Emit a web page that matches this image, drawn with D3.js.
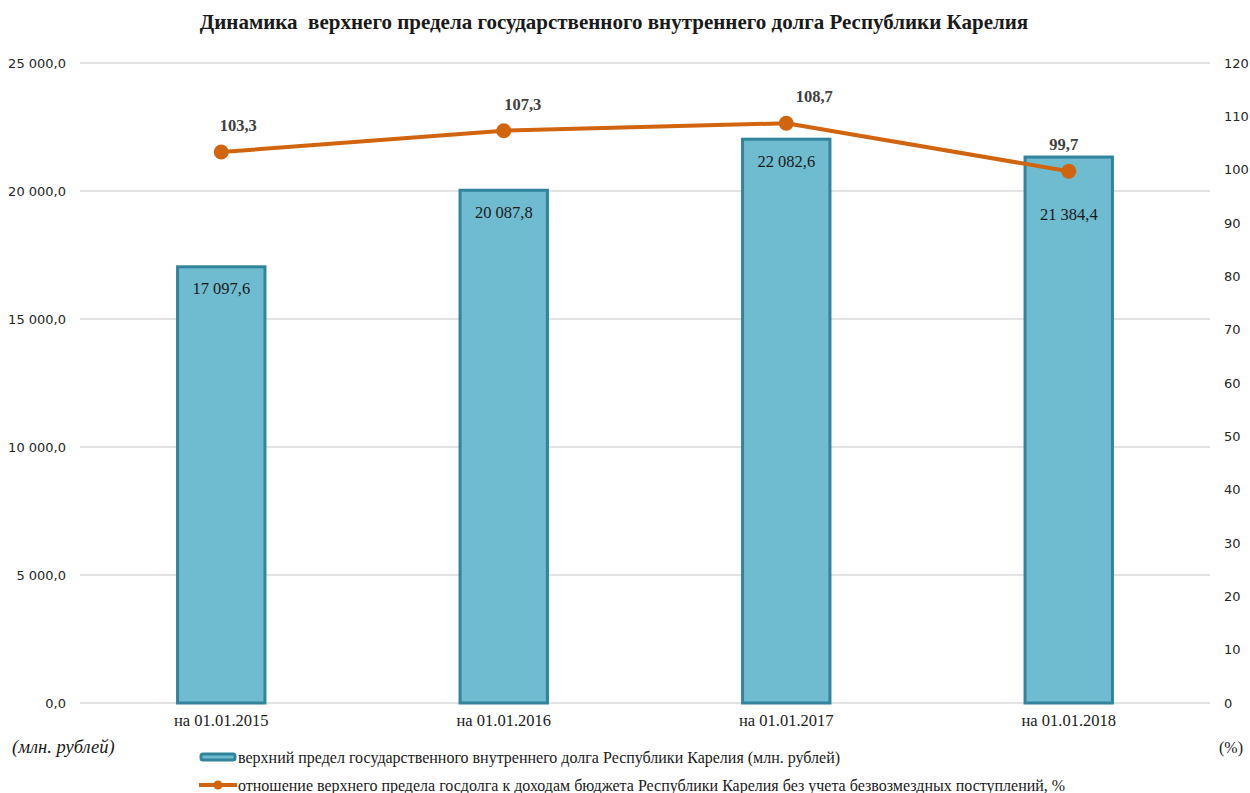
<!DOCTYPE html>
<html>
<head>
<meta charset="utf-8">
<script src="https://cdn.jsdelivr.net/npm/d3@7"></script>
<style>
    body { margin: 0; background: #fff; }
    .tick text { font-family: "DejaVu Sans", sans-serif; font-size: 13px; fill: #262626; }
    .serif { font-family: "Liberation Serif", "Times New Roman", serif; fill: #1a1a1a; white-space: pre; }
</style>
</head>
<body>
<div id="chart"></div>
<script>
// data
var categories = ["на 01.01.2015", "на 01.01.2016", "на 01.01.2017", "на 01.01.2018"];
var debtValues = [17097.6, 20087.8, 22082.6, 21384.4];
var ratioValues = [103.3, 107.3, 108.7, 99.7];
var leftTicks = [0, 5000, 10000, 15000, 20000, 25000];
var rightTicks = [0, 10, 20, 30, 40, 50, 60, 70, 80, 90, 100, 110, 120];
var barName = "верхний предел государственного внутреннего долга Республики Карелия (млн. рублей)";
var lineName = "отношение верхнего предела госдолга к доходам бюджета Республики Карелия без учета безвозмездных поступлений, %";

// label nudges (excel moved some labels away from the line)
var lineLabelDx = [17, 19, 28, -5];
var barLabelDy = [29, 29, 29, 64];

var W = 1250, H = 793;
var margin = {top: 63, right: 40, bottom: 90, left: 80},
    width = W - margin.left - margin.right,
    height = H - margin.top - margin.bottom;

var fmt = function (v, dec) {
    var s = v.toFixed(dec).split(".");
    var intPart = s[0].replace(/\B(?=(\d{3})+(?!\d))/g, " ");
    return dec > 0 ? intPart + "," + s[1] : intPart;
};

var svg = d3.select("#chart").append("svg")
    .attr("width", W).attr("height", H);

// title
svg.append("text")
    .attr("class", "serif")
    .attr("x", 614).attr("y", 29)
    .attr("text-anchor", "middle")
    .style("font-size", "21px").style("font-weight", "bold")
    .text("Динамика  верхнего предела государственного внутреннего долга Республики Карелия");

var g = svg.append("g").attr("transform", "translate(" + margin.left + "," + margin.top + ")");

var x = d3.scaleBand().domain(categories).range([0, width]).paddingInner(0.68).paddingOuter(0.34);
var xc = d3.scalePoint().domain(categories).range([0, width]).padding(0.5);
var y0 = d3.scaleLinear().domain([0, 25000]).range([height, 0]);
var y1 = d3.scaleLinear().domain([0, 120]).range([height, 0]);

// gridlines
g.selectAll(".grid").data(leftTicks).enter().append("line")
    .attr("x1", 0).attr("x2", width)
    .attr("y1", function (d) { return y0(d); })
    .attr("y2", function (d) { return y0(d); })
    .attr("stroke", "#d9d9d9").attr("stroke-width", 1.3);

// left axis
var axL = g.append("g")
    .call(d3.axisLeft(y0).tickValues(leftTicks).tickSize(0).tickPadding(14)
        .tickFormat(function (d) { return fmt(d, 1); }));
axL.select(".domain").remove();

// right axis
var axR = g.append("g")
    .attr("transform", "translate(" + width + ",0)")
    .call(d3.axisRight(y1).tickValues(rightTicks).tickSize(0).tickPadding(14));
axR.select(".domain").remove();

// bars
var bar = g.selectAll(".bar").data(debtValues).enter().append("g");
bar.append("rect")
    .attr("x", function (d, i) { return x(categories[i]) + 1.5; })
    .attr("y", function (d) { return y0(d) + 1.5; })
    .attr("width", x.bandwidth() - 3)
    .attr("height", function (d) { return height - y0(d) - 1.5; })
    .attr("fill", "#6fbbd0")
    .attr("stroke", "#31849b")
    .attr("stroke-width", 3);

bar.append("text")
    .attr("class", "serif")
    .attr("x", function (d, i) { return xc(categories[i]); })
    .attr("y", function (d, i) { return y0(d) + barLabelDy[i]; })
    .attr("text-anchor", "middle")
    .style("font-size", "16.5px")
    .text(function (d) { return fmt(d, 1); });

// category labels
g.selectAll(".cat").data(categories).enter().append("text")
    .attr("class", "serif")
    .attr("x", function (d) { return xc(d); })
    .attr("y", height + 23)
    .attr("text-anchor", "middle")
    .style("font-size", "16.5px")
    .text(function (d) { return d; });

// line
var line = d3.line()
    .x(function (d, i) { return xc(categories[i]); })
    .y(function (d) { return y1(d); });

g.append("path")
    .datum(ratioValues)
    .attr("d", line)
    .attr("fill", "none")
    .attr("stroke", "#d0640f")
    .attr("stroke-width", 4)
    .attr("stroke-linejoin", "round");

g.selectAll(".pt").data(ratioValues).enter().append("circle")
    .attr("cx", function (d, i) { return xc(categories[i]); })
    .attr("cy", function (d) { return y1(d); })
    .attr("r", 7.5)
    .attr("fill", "#d0640f");

g.selectAll(".lbl").data(ratioValues).enter().append("text")
    .attr("class", "serif")
    .attr("x", function (d, i) { return xc(categories[i]) + lineLabelDx[i]; })
    .attr("y", function (d) { return y1(d) - 21; })
    .attr("text-anchor", "middle")
    .style("font-size", "16.5px").style("font-weight", "bold")
    .style("fill", "#404040")
    .text(function (d) { return fmt(d, 1); });

// axis unit labels
svg.append("text")
    .attr("class", "serif")
    .attr("x", 12).attr("y", 753)
    .style("font-size", "18.5px").style("font-style", "italic")
    .text("(млн. рублей)");

svg.append("text")
    .attr("class", "serif")
    .attr("x", 1219).attr("y", 753)
    .style("font-size", "16px")
    .text("(%)");

// legend
var leg = svg.append("g");
leg.append("rect")
    .attr("x", 201).attr("y", 754).attr("width", 34).attr("height", 6)
    .attr("rx", 2)
    .attr("fill", "#6fbbd0").attr("stroke", "#31849b").attr("stroke-width", 3);
leg.append("text")
    .attr("class", "serif")
    .attr("x", 238).attr("y", 763)
    .style("font-size", "16px")
    .text(barName);

leg.append("line")
    .attr("x1", 199).attr("x2", 237).attr("y1", 785).attr("y2", 785)
    .attr("stroke", "#d0640f").attr("stroke-width", 4);
leg.append("circle")
    .attr("cx", 218).attr("cy", 785).attr("r", 4.5)
    .attr("fill", "#d0640f");
leg.append("text")
    .attr("class", "serif")
    .attr("x", 238).attr("y", 791)
    .style("font-size", "16px")
    .text(lineName);
</script>
</body>
</html>
